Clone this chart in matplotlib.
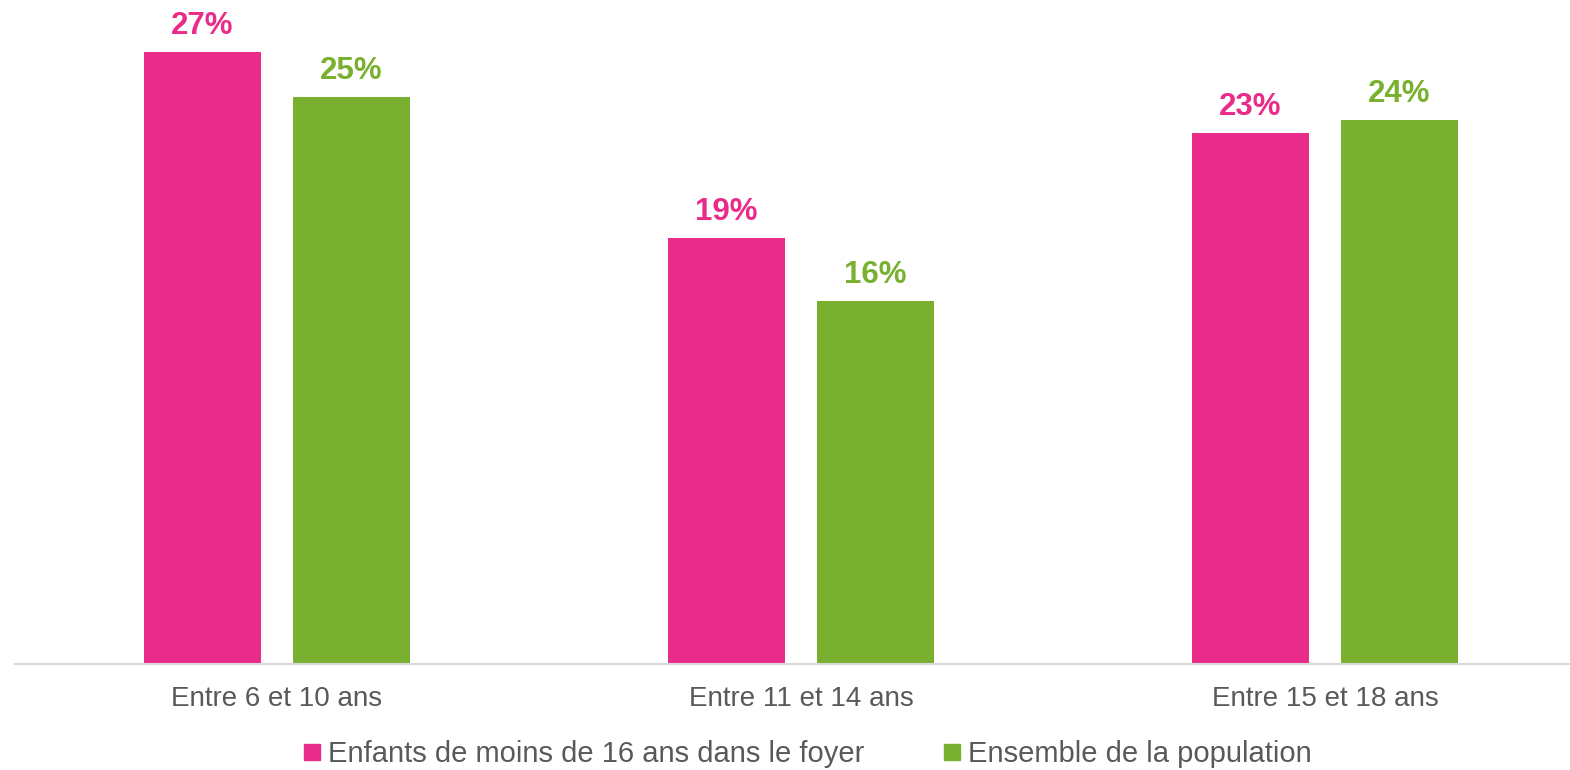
import numpy as np
from matplotlib import pyplot as plt
from matplotlib.lines import Line2D

plt.rcParams['font.family'] = ['Liberation Sans', 'DejaVu Sans']

categories = ['Entre 6 et 10 ans', 'Entre 11 et 14 ans', 'Entre 15 et 18 ans']
series_names = ['Enfants de moins de 16 ans dans le foyer', 'Ensemble de la population']
enfants = [27.0, 18.8, 23.4]
ensemble = [25.0, 16.0, 24.0]
enfants_labels = ['27%', '19%', '23%']
ensemble_labels = ['25%', '16%', '24%']

pink = '#E92C8A'
green = '#7AB030'
grey_txt = '#595959'

fig = plt.figure(figsize=(15.7, 7.7), dpi=100)
ax = fig.add_axes([15/1570, 106/770, 1555/1570, 664/770])

x = np.arange(len(categories))
w = 0.2233
off = 0.1422
b1 = ax.bar(x - off, enfants, w, color=pink)
b2 = ax.bar(x + off, ensemble, w, color=green)

for bars, labs, col in [(b1, enfants_labels, pink), (b2, ensemble_labels, green)]:
    for bar, lab in zip(bars, labs):
        ax.annotate(lab, (bar.get_x() + bar.get_width()/2, bar.get_height()),
                    xytext=(0, 13), textcoords='offset points', ha='center', va='baseline',
                    fontsize=22.5, fontweight='bold', color=col)

ax.set_xlim(-0.5, -0.5 + 1555/524)
ax.set_ylim(0, 664/22.68)
ax.set_xticks(x)
ax.set_xticklabels(categories, fontsize=20, color=grey_txt)
ax.tick_params(axis='x', length=0, pad=16)
ax.set_yticks([])
for s in ['top', 'right', 'left']:
    ax.spines[s].set_visible(False)
ax.spines['bottom'].set_color('#D9D9D9')
ax.spines['bottom'].set_linewidth(1.5)

handles = [Line2D([], [], marker='s', linestyle='none', markersize=11, color=pink),
           Line2D([], [], marker='s', linestyle='none', markersize=11, color=green)]
fig.legend(handles, series_names, loc='center', bbox_to_anchor=(806/1570, 1 - 754/770),
           ncol=2, frameon=False, fontsize=21, labelcolor=grey_txt,
           handletextpad=0.15, columnspacing=2.6, handlelength=0.8)

fig.savefig('out.png')
